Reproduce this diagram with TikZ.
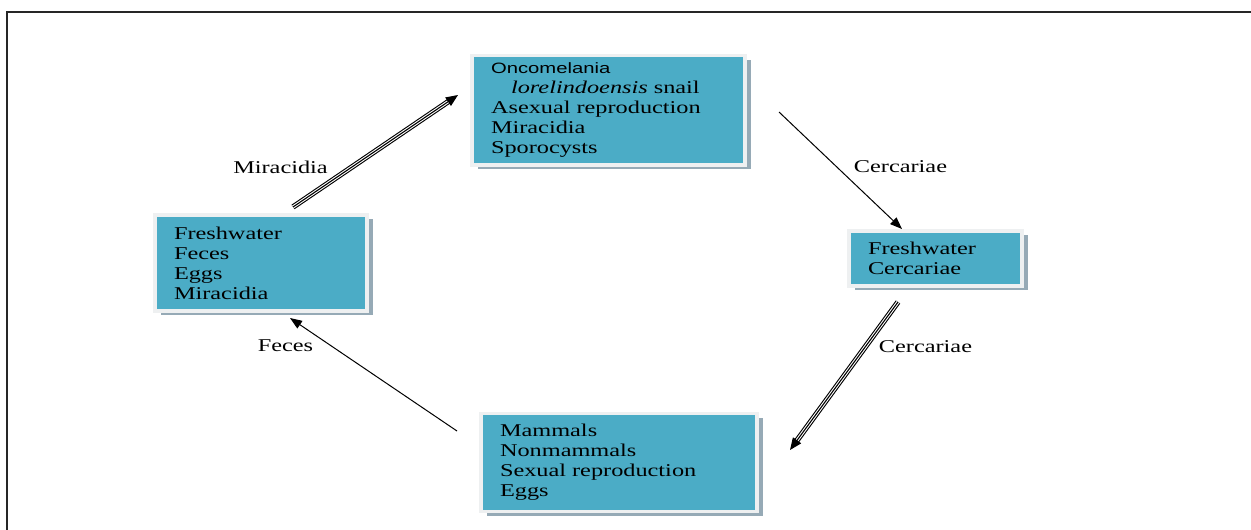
\documentclass[tikz,border=0pt]{standalone}
\usepackage{fontspec}
\setmainfont{Liberation Serif}[FakeStretch=1.35]
\newfontfamily\snailsans{Liberation Sans}[FakeStretch=1.35]
\usetikzlibrary{arrows.meta,shadows}
\definecolor{boxblue}{RGB}{75,172,198}
\definecolor{framec}{RGB}{238,240,241}
\definecolor{shadc}{RGB}{150,170,182}
\begin{document}
\begin{tikzpicture}[x=1pt,y=-1pt,
  cyclebox/.style={draw=framec, line width=3.5pt, fill=boxblue,
    drop shadow={shadow xshift=6pt, shadow yshift=-4pt, fill=shadc, opacity=1},
    align=left, inner xsep=19pt, inner ysep=0pt,
    font=\fontsize{18}{20}\selectfont},
  lbl/.style={font=\fontsize{18}{20}\selectfont, inner sep=0pt},
  thinarrow/.style={line width=1pt, -{Triangle[length=12pt,width=9pt]}},
  tripA/.style={line width=5.4pt, shorten >=9pt},
  tripB/.style={draw=white, line width=3.2pt, shorten >=9pt},
  tripC/.style={line width=1.1pt, -{Triangle[length=12pt,width=10pt]}},
  frameline/.style={line width=2pt, black!85}]
\useasboundingbox (0,0) rectangle (1251,530);
\draw[frameline] (6.5,530) -- (6.5,11.5) -- (1251,11.5);

\node[cyclebox, text width=235pt, minimum height=109.5pt] (snail) at (608.5,110.25)
  {\snailsans\fontsize{15}{20}\selectfont Oncomelania\\
   \rmfamily\upshape\fontsize{18}{20}\selectfont\hspace*{20pt}\textit{lorelindoensis} snail\\
   \rmfamily\fontsize{18}{20}\selectfont Asexual reproduction\\
   \rmfamily\fontsize{18}{20}\selectfont Miracidia\\
   \rmfamily\fontsize{18}{20}\selectfont Sporocysts};
\node[cyclebox, text width=174pt, minimum height=96pt] (fresh1) at (261,263)
  {Freshwater\\ Feces\\ Eggs\\ Miracidia};
\node[cyclebox, text width=135pt, minimum height=55pt] (fresh2) at (935.5,258.5)
  {Freshwater\\ Cercariae};
\node[cyclebox, text width=238pt, minimum height=98pt] (host) at (619,462.5)
  {Mammals\\ Nonmammals\\ Sexual reproduction\\ Eggs};

\node[lbl] (lmir) at (280.5,167) {Miracidia};
\node[lbl] (lcer1) at (900.5,167) {Cercariae};
\node[lbl] (lcer2) at (925.5,347) {Cercariae};
\node[lbl] (lfec) at (285.5,346) {Feces};

\coordinate (m1) at (293,207);
\coordinate (m2) at (458,95);
\coordinate (c1) at (779,112);
\coordinate (c2) at (902,229);
\coordinate (d1) at (898,302);
\coordinate (d2) at (790,450);
\coordinate (f1) at (457,431);
\coordinate (f2) at (290,318);

\draw[tripA] (m1) -- (m2);
\draw[tripB] (m1) -- (m2);
\draw[tripC] (m1) -- (m2);
\draw[thinarrow] (c1) -- (c2);
\draw[tripA] (d1) -- (d2);
\draw[tripB] (d1) -- (d2);
\draw[tripC] (d1) -- (d2);
\draw[thinarrow] (f1) -- (f2);
\end{tikzpicture}
\end{document}
